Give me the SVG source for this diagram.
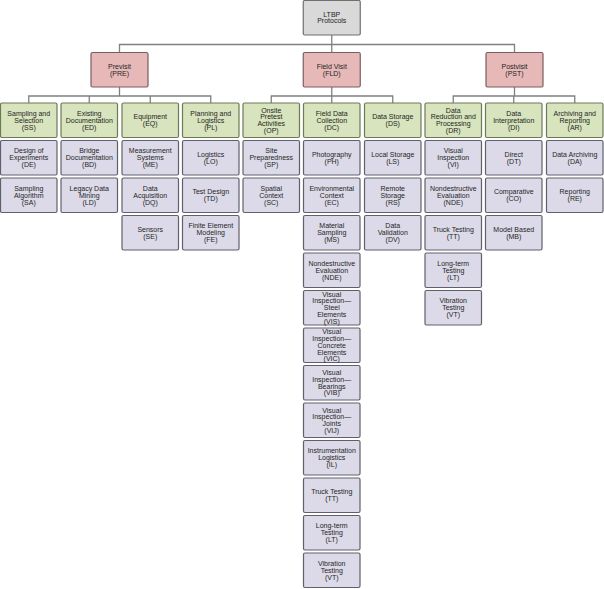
<svg xmlns="http://www.w3.org/2000/svg" width="604" height="589" viewBox="0 0 604 589">
<style>
rect{stroke-width:1.2;}
.root rect{fill:#d9d9d9;stroke:#6f6f6f;}
.phase rect{fill:#e6b9b8;stroke:#7a5e5e;}
.cat rect{fill:#d7e4bd;stroke:#6c7a55;}
.item rect{fill:#dcdae8;stroke:#60606c;}
text{font-family:"Liberation Sans",Arial,sans-serif;font-size:7px;fill:#1f1f1f;text-anchor:middle;}
.conn{fill:none;stroke:#808080;stroke-width:1.3;}
</style>
<rect width="604" height="589" fill="#ffffff"/>
<g id="connectors" class="conn">
<path d="M331.75 35 V44.5 M119.5 52.5 V44.5 H514.5 V52.5 M331.75 44.5 V52.5"/>
<path d="M119.5 87 V96 M28.75 103 V96 H210.75 V103 M89.25 96 V103 M150.25 96 V103"/>
<path d="M331.75 87 V103 M271.25 103 V96 H392.75 V103"/>
<path d="M514.5 87 V96 M453.25 103 V96 H574.75 V103 M513.75 96 V103"/>
</g>
<g id="LTBP" class="root"><rect x="303.25" y="0.5" width="57" height="34.5" rx="1.5"/><text x="331.75" y="16.6">LTBP<tspan x="331.75" dy="6.8">Protocols</tspan></text></g>
<g id="PRE" class="phase"><rect x="91" y="52.5" width="57" height="34.5" rx="1.5"/><text x="119.5" y="68.85">Previsit<tspan x="119.5" dy="6.8">(PRE)</tspan></text></g>
<g id="FLD" class="phase"><rect x="303.25" y="52.5" width="57" height="34.5" rx="1.5"/><text x="331.75" y="68.85">Field Visit<tspan x="331.75" dy="6.8">(FLD)</tspan></text></g>
<g id="PST" class="phase"><rect x="486" y="52.5" width="57" height="34.5" rx="1.5"/><text x="514.5" y="68.85">Postvisit<tspan x="514.5" dy="6.8">(PST)</tspan></text></g>

<g id="SS" class="cat"><rect x="0.5" y="103" width="56.5" height="34.5" rx="1.5"/><text x="28.75" y="115.95">Sampling and<tspan x="28.75" dy="6.8">Selection</tspan><tspan x="28.75" dy="6.8">(SS)</tspan></text></g>
<g id="DE" class="item"><rect x="0.5" y="140.5" width="56.5" height="34.5" rx="1.5"/><text x="28.75" y="153.45">Design of<tspan x="28.75" dy="6.8">Experiments</tspan><tspan x="28.75" dy="6.8">(DE)</tspan></text></g>
<g id="SA" class="item"><rect x="0.5" y="178" width="56.5" height="34.5" rx="1.5"/><text x="28.75" y="190.95">Sampling<tspan x="28.75" dy="6.8">Algorithm</tspan><tspan x="28.75" dy="6.8">(SA)</tspan></text></g>

<g id="ED" class="cat"><rect x="61" y="103" width="56.5" height="34.5" rx="1.5"/><text x="89.25" y="115.95">Existing<tspan x="89.25" dy="6.8">Documentation</tspan><tspan x="89.25" dy="6.8">(ED)</tspan></text></g>
<g id="BD" class="item"><rect x="61" y="140.5" width="56.5" height="34.5" rx="1.5"/><text x="89.25" y="153.45">Bridge<tspan x="89.25" dy="6.8">Documentation</tspan><tspan x="89.25" dy="6.8">(BD)</tspan></text></g>
<g id="LD" class="item"><rect x="61" y="178" width="56.5" height="34.5" rx="1.5"/><text x="89.25" y="190.95">Legacy Data<tspan x="89.25" dy="6.8">Mining</tspan><tspan x="89.25" dy="6.8">(LD)</tspan></text></g>

<g id="EQ" class="cat"><rect x="122" y="103" width="56.5" height="34.5" rx="1.5"/><text x="150.25" y="119.35">Equipment<tspan x="150.25" dy="6.8">(EQ)</tspan></text></g>
<g id="ME" class="item"><rect x="122" y="140.5" width="56.5" height="34.5" rx="1.5"/><text x="150.25" y="153.45">Measurement<tspan x="150.25" dy="6.8">Systems</tspan><tspan x="150.25" dy="6.8">(ME)</tspan></text></g>
<g id="DQ" class="item"><rect x="122" y="178" width="56.5" height="34.5" rx="1.5"/><text x="150.25" y="190.95">Data<tspan x="150.25" dy="6.8">Acquisition</tspan><tspan x="150.25" dy="6.8">(DQ)</tspan></text></g>
<g id="SE" class="item"><rect x="122" y="215.5" width="56.5" height="34.5" rx="1.5"/><text x="150.25" y="231.85">Sensors<tspan x="150.25" dy="6.8">(SE)</tspan></text></g>

<g id="PL" class="cat"><rect x="182.5" y="103" width="56.5" height="34.5" rx="1.5"/><text x="210.75" y="115.95">Planning and<tspan x="210.75" dy="6.8">Logistics</tspan><tspan x="210.75" dy="6.8">(PL)</tspan></text></g>
<g id="LO" class="item"><rect x="182.5" y="140.5" width="56.5" height="34.5" rx="1.5"/><text x="210.75" y="156.85">Logistics<tspan x="210.75" dy="6.8">(LO)</tspan></text></g>
<g id="TD" class="item"><rect x="182.5" y="178" width="56.5" height="34.5" rx="1.5"/><text x="210.75" y="194.35">Test Design<tspan x="210.75" dy="6.8">(TD)</tspan></text></g>
<g id="FE" class="item"><rect x="182.5" y="215.5" width="56.5" height="34.5" rx="1.5"/><text x="210.75" y="228.45">Finite Element<tspan x="210.75" dy="6.8">Modeling</tspan><tspan x="210.75" dy="6.8">(FE)</tspan></text></g>

<g id="OP" class="cat"><rect x="243" y="103" width="56.5" height="34.5" rx="1.5"/><text x="271.25" y="112.55">Onsite<tspan x="271.25" dy="6.8">Pretest</tspan><tspan x="271.25" dy="6.8">Activities</tspan><tspan x="271.25" dy="6.8">(OP)</tspan></text></g>
<g id="SP" class="item"><rect x="243" y="140.5" width="56.5" height="34.5" rx="1.5"/><text x="271.25" y="153.45">Site<tspan x="271.25" dy="6.8">Preparedness</tspan><tspan x="271.25" dy="6.8">(SP)</tspan></text></g>
<g id="SC" class="item"><rect x="243" y="178" width="56.5" height="34.5" rx="1.5"/><text x="271.25" y="190.95">Spatial<tspan x="271.25" dy="6.8">Context</tspan><tspan x="271.25" dy="6.8">(SC)</tspan></text></g>

<g id="DC" class="cat"><rect x="303.5" y="103" width="56.5" height="34.5" rx="1.5"/><text x="331.75" y="115.95">Field Data<tspan x="331.75" dy="6.8">Collection</tspan><tspan x="331.75" dy="6.8">(DC)</tspan></text></g>
<g id="PH" class="item"><rect x="303.5" y="140.5" width="56.5" height="34.5" rx="1.5"/><text x="331.75" y="156.85">Photography<tspan x="331.75" dy="6.8">(PH)</tspan></text></g>
<g id="EC" class="item"><rect x="303.5" y="178" width="56.5" height="34.5" rx="1.5"/><text x="331.75" y="190.95">Environmental<tspan x="331.75" dy="6.8">Context</tspan><tspan x="331.75" dy="6.8">(EC)</tspan></text></g>
<g id="MS" class="item"><rect x="303.5" y="215.5" width="56.5" height="34.5" rx="1.5"/><text x="331.75" y="228.45">Material<tspan x="331.75" dy="6.8">Sampling</tspan><tspan x="331.75" dy="6.8">(MS)</tspan></text></g>
<g id="NDE-FLD" class="item"><rect x="303.5" y="253" width="56.5" height="34.5" rx="1.5"/><text x="331.75" y="265.95">Nondestructive<tspan x="331.75" dy="6.8">Evaluation</tspan><tspan x="331.75" dy="6.8">(NDE)</tspan></text></g>
<g id="VIS" class="item"><rect x="303.5" y="290.5" width="56.5" height="34.5" rx="1.5"/><text x="331.75" y="296.65">Visual<tspan x="331.75" dy="6.8">Inspection—</tspan><tspan x="331.75" dy="6.8">Steel</tspan><tspan x="331.75" dy="6.8">Elements</tspan><tspan x="331.75" dy="6.8">(VIS)</tspan></text></g>
<g id="VIC" class="item"><rect x="303.5" y="328" width="56.5" height="34.5" rx="1.5"/><text x="331.75" y="334.15">Visual<tspan x="331.75" dy="6.8">Inspection—</tspan><tspan x="331.75" dy="6.8">Concrete</tspan><tspan x="331.75" dy="6.8">Elements</tspan><tspan x="331.75" dy="6.8">(VIC)</tspan></text></g>
<g id="VIB" class="item"><rect x="303.5" y="365.5" width="56.5" height="34.5" rx="1.5"/><text x="331.75" y="375.05">Visual<tspan x="331.75" dy="6.8">Inspection—</tspan><tspan x="331.75" dy="6.8">Bearings</tspan><tspan x="331.75" dy="6.8">(VIB)</tspan></text></g>
<g id="VIJ" class="item"><rect x="303.5" y="403" width="56.5" height="34.5" rx="1.5"/><text x="331.75" y="412.55">Visual<tspan x="331.75" dy="6.8">Inspection—</tspan><tspan x="331.75" dy="6.8">Joints</tspan><tspan x="331.75" dy="6.8">(VIJ)</tspan></text></g>
<g id="IL" class="item"><rect x="303.5" y="440.5" width="56.5" height="34.5" rx="1.5"/><text x="331.75" y="453.45">Instrumentation<tspan x="331.75" dy="6.8">Logistics</tspan><tspan x="331.75" dy="6.8">(IL)</tspan></text></g>
<g id="TT-FLD" class="item"><rect x="303.5" y="478" width="56.5" height="34.5" rx="1.5"/><text x="331.75" y="494.35">Truck Testing<tspan x="331.75" dy="6.8">(TT)</tspan></text></g>
<g id="LT-FLD" class="item"><rect x="303.5" y="515.5" width="56.5" height="34.5" rx="1.5"/><text x="331.75" y="528.45">Long-term<tspan x="331.75" dy="6.8">Testing</tspan><tspan x="331.75" dy="6.8">(LT)</tspan></text></g>
<g id="VT-FLD" class="item"><rect x="303.5" y="553" width="56.5" height="34.5" rx="1.5"/><text x="331.75" y="565.95">Vibration<tspan x="331.75" dy="6.8">Testing</tspan><tspan x="331.75" dy="6.8">(VT)</tspan></text></g>

<g id="DS" class="cat"><rect x="364.5" y="103" width="56.5" height="34.5" rx="1.5"/><text x="392.75" y="119.35">Data Storage<tspan x="392.75" dy="6.8">(DS)</tspan></text></g>
<g id="LS" class="item"><rect x="364.5" y="140.5" width="56.5" height="34.5" rx="1.5"/><text x="392.75" y="156.85">Local Storage<tspan x="392.75" dy="6.8">(LS)</tspan></text></g>
<g id="RS" class="item"><rect x="364.5" y="178" width="56.5" height="34.5" rx="1.5"/><text x="392.75" y="190.95">Remote<tspan x="392.75" dy="6.8">Storage</tspan><tspan x="392.75" dy="6.8">(RS)</tspan></text></g>
<g id="DV" class="item"><rect x="364.5" y="215.5" width="56.5" height="34.5" rx="1.5"/><text x="392.75" y="228.45">Data<tspan x="392.75" dy="6.8">Validation</tspan><tspan x="392.75" dy="6.8">(DV)</tspan></text></g>

<g id="DR" class="cat"><rect x="425" y="103" width="56.5" height="34.5" rx="1.5"/><text x="453.25" y="112.55">Data<tspan x="453.25" dy="6.8">Reduction and</tspan><tspan x="453.25" dy="6.8">Processing</tspan><tspan x="453.25" dy="6.8">(DR)</tspan></text></g>
<g id="VI" class="item"><rect x="425" y="140.5" width="56.5" height="34.5" rx="1.5"/><text x="453.25" y="153.45">Visual<tspan x="453.25" dy="6.8">Inspection</tspan><tspan x="453.25" dy="6.8">(VI)</tspan></text></g>
<g id="NDE-PST" class="item"><rect x="425" y="178" width="56.5" height="34.5" rx="1.5"/><text x="453.25" y="190.95">Nondestructive<tspan x="453.25" dy="6.8">Evaluation</tspan><tspan x="453.25" dy="6.8">(NDE)</tspan></text></g>
<g id="TT-PST" class="item"><rect x="425" y="215.5" width="56.5" height="34.5" rx="1.5"/><text x="453.25" y="231.85">Truck Testing<tspan x="453.25" dy="6.8">(TT)</tspan></text></g>
<g id="LT-PST" class="item"><rect x="425" y="253" width="56.5" height="34.5" rx="1.5"/><text x="453.25" y="265.95">Long-term<tspan x="453.25" dy="6.8">Testing</tspan><tspan x="453.25" dy="6.8">(LT)</tspan></text></g>
<g id="VT-PST" class="item"><rect x="425" y="290.5" width="56.5" height="34.5" rx="1.5"/><text x="453.25" y="303.45">Vibration<tspan x="453.25" dy="6.8">Testing</tspan><tspan x="453.25" dy="6.8">(VT)</tspan></text></g>

<g id="DI" class="cat"><rect x="485.5" y="103" width="56.5" height="34.5" rx="1.5"/><text x="513.75" y="115.95">Data<tspan x="513.75" dy="6.8">Interpretation</tspan><tspan x="513.75" dy="6.8">(DI)</tspan></text></g>
<g id="DT" class="item"><rect x="485.5" y="140.5" width="56.5" height="34.5" rx="1.5"/><text x="513.75" y="156.85">Direct<tspan x="513.75" dy="6.8">(DT)</tspan></text></g>
<g id="CO" class="item"><rect x="485.5" y="178" width="56.5" height="34.5" rx="1.5"/><text x="513.75" y="194.35">Comparative<tspan x="513.75" dy="6.8">(CO)</tspan></text></g>
<g id="MB" class="item"><rect x="485.5" y="215.5" width="56.5" height="34.5" rx="1.5"/><text x="513.75" y="231.85">Model Based<tspan x="513.75" dy="6.8">(MB)</tspan></text></g>

<g id="AR" class="cat"><rect x="546.5" y="103" width="56.5" height="34.5" rx="1.5"/><text x="574.75" y="115.95">Archiving and<tspan x="574.75" dy="6.8">Reporting</tspan><tspan x="574.75" dy="6.8">(AR)</tspan></text></g>
<g id="DA" class="item"><rect x="546.5" y="140.5" width="56.5" height="34.5" rx="1.5"/><text x="574.75" y="156.85">Data Archiving<tspan x="574.75" dy="6.8">(DA)</tspan></text></g>
<g id="RE" class="item"><rect x="546.5" y="178" width="56.5" height="34.5" rx="1.5"/><text x="574.75" y="194.35">Reporting<tspan x="574.75" dy="6.8">(RE)</tspan></text></g>
</svg>
